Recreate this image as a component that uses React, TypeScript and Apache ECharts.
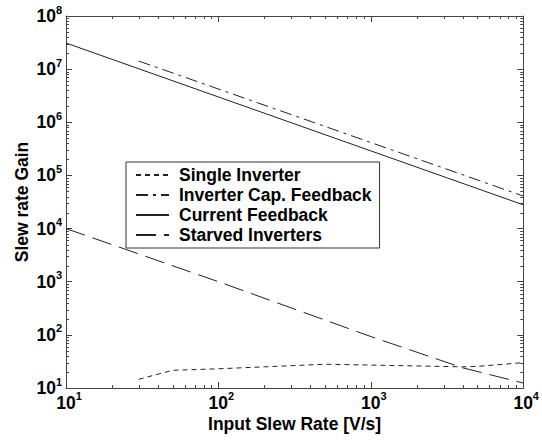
import React, { useEffect, useRef } from "react";
import * as echarts from "echarts";

// ---- data ----
const singleInverterX = [30, 50, 100, 200, 500, 1000, 2000, 4000, 5000, 10000];
const singleInverterY = [14.6, 21.5, 23, 25, 28, 27, 26, 25, 25.5, 30];

const invCapFeedbackX = [30, 10000];
const invCapFeedbackY = [1.42e7, 4.1e4];

const currentFeedbackX = [10, 10000];
const currentFeedbackY = [3.1e7, 2.8e4];

const starvedX = [10, 100, 1000, 4000, 10000];
const starvedY = [10000, 1000, 93, 24, 12.4];

const seriesNames = [
  "Single Inverter",
  "Inverter Cap. Feedback",
  "Current Feedback",
  "Starved Inverters",
];

// axis decades (tick labels are 10^n)
const xDecades = [1, 2, 3, 4];
const yDecades = [1, 2, 3, 4, 5, 6, 7, 8];
const minorMultipliers = [2, 3, 4, 5, 6, 7, 8, 9];

const FONT = "'Liberation Sans', Arial, Helvetica, sans-serif";
const INK = "#222";
const AXIS = "#444";
const FS = 17.5;

const X_MIN = Math.pow(10, xDecades[0]);
const X_MAX = Math.pow(10, xDecades[xDecades.length - 1]);
const Y_MIN = Math.pow(10, yDecades[0]);
const Y_MAX = Math.pow(10, yDecades[yDecades.length - 1]);

function zip(xs: number[], ys: number[]) {
  return xs.map((x, i) => [x, ys[i]]);
}

function buildMinorTicks() {
  const out: number[][] = [];
  for (let i = 0; i < xDecades.length - 1; i++) {
    for (const m of minorMultipliers) out.push([m * Math.pow(10, xDecades[i]), Y_MIN, 0]);
  }
  for (let i = 0; i < yDecades.length - 1; i++) {
    for (const m of minorMultipliers) out.push([X_MIN, m * Math.pow(10, yDecades[i]), 1]);
  }
  return out;
}

const labelRich = {
  p: { width: 6, fontSize: FS, lineHeight: 15, verticalAlign: "middle" },
  b: { fontSize: FS, fontWeight: "bold", fontFamily: FONT, color: "#000", lineHeight: 15, verticalAlign: "middle" },
  s: { fontSize: 11, fontWeight: "bold", fontFamily: FONT, color: "#000", lineHeight: 2, height: 2, verticalAlign: "top" },
};

function expOf(v: number) {
  return Math.round(Math.log10(v));
}

export default function App() {
  const ref = useRef<HTMLDivElement>(null);

  useEffect(() => {
    if (!ref.current) return;
    const chart = echarts.init(ref.current, null, { renderer: "svg" });

    const tickStyle = { color: AXIS, width: 1 };

    const option: any = {
      animation: false,
      backgroundColor: "#fff",
      grid: { left: 66, top: 16, right: 15, bottom: 54, containLabel: false },
      legend: {
        data: seriesNames,
        orient: "vertical",
        left: 126,
        top: 162,
        backgroundColor: "#fff",
        borderColor: "#333",
        borderWidth: 1,
        borderRadius: 0,
        padding: [3, 8, 3, 9],
        itemGap: 0,
        itemWidth: 33,
        itemHeight: 20,
        selectedMode: false,
        itemStyle: { opacity: 0 },
        textStyle: {
          fontFamily: FONT,
          fontWeight: "bold",
          fontSize: FS,
          color: "#000",
          lineHeight: 20,
          padding: [0, 0, 0, 5],
        },
      },
      xAxis: [
        {
          type: "log",
          logBase: 10,
          min: X_MIN,
          max: X_MAX,
          interval: 1,
          position: "bottom",
          name: "Input Slew Rate [V/s]",
          nameLocation: "middle",
          nameGap: 27,
          nameMoveOverlap: false,
          nameTextStyle: { fontFamily: FONT, fontWeight: "bold", fontSize: FS, color: "#000" },
          axisLine: { show: true, onZero: false, lineStyle: tickStyle },
          axisTick: { show: true, inside: true, length: 6, lineStyle: tickStyle },
          splitLine: { show: false },
          minorTick: { show: false },
          axisLabel: {
            margin: 7,
            interval: 0,
            formatter: (v: number) => `{p|}{b|10}{s|${expOf(v)}}`,
            rich: labelRich,
          },
        },
        {
          type: "log",
          logBase: 10,
          min: X_MIN,
          max: X_MAX,
          interval: 1,
          position: "top",
          axisLine: { show: true, onZero: false, lineStyle: tickStyle },
          axisTick: { show: true, inside: true, length: 6, lineStyle: tickStyle },
          splitLine: { show: false },
          axisLabel: { show: false },
        },
      ],
      yAxis: [
        {
          type: "log",
          logBase: 10,
          min: Y_MIN,
          max: Y_MAX,
          interval: 1,
          position: "left",
          name: "Slew rate Gain",
          nameLocation: "middle",
          nameGap: 35,
          nameMoveOverlap: false,
          nameTextStyle: { fontFamily: FONT, fontWeight: "bold", fontSize: FS, color: "#000" },
          axisLine: { show: true, onZero: false, lineStyle: tickStyle },
          axisTick: { show: true, inside: true, length: 6, lineStyle: tickStyle },
          splitLine: { show: false },
          axisLabel: {
            margin: 4,
            interval: 0,
            formatter: (v: number) => `{b|10}{s|${expOf(v)}}`,
            rich: labelRich,
          },
        },
        {
          type: "log",
          logBase: 10,
          min: Y_MIN,
          max: Y_MAX,
          interval: 1,
          position: "right",
          axisLine: { show: true, onZero: false, lineStyle: tickStyle },
          axisTick: { show: true, inside: true, length: 6, lineStyle: tickStyle },
          splitLine: { show: false },
          axisLabel: { show: false },
        },
      ],
      series: [
        {
          name: seriesNames[0],
          type: "line",
          data: zip(singleInverterX, singleInverterY),
          symbol: "none",
          lineStyle: { color: INK, width: 1, type: [5, 4] },
          itemStyle: { color: INK },
        },
        {
          name: seriesNames[1],
          type: "line",
          data: zip(invCapFeedbackX, invCapFeedbackY),
          symbol: "none",
          lineStyle: { color: INK, width: 1, type: [12, 5, 3, 5] },
          itemStyle: { color: INK },
        },
        {
          name: seriesNames[2],
          type: "line",
          data: zip(currentFeedbackX, currentFeedbackY),
          symbol: "none",
          lineStyle: { color: INK, width: 1, type: "solid" },
          itemStyle: { color: INK },
        },
        {
          name: seriesNames[3],
          type: "line",
          data: zip(starvedX, starvedY),
          symbol: "none",
          lineStyle: { color: INK, width: 1, type: [20, 8] },
          itemStyle: { color: INK },
        },
        {
          name: "minorTicks",
          type: "custom",
          silent: true,
          xAxisIndex: 0,
          yAxisIndex: 0,
          encode: { x: 0, y: 1 },
          data: buildMinorTicks(),
          renderItem: (params: any, api: any) => {
            const kind = api.value(2);
            const style = { stroke: AXIS, lineWidth: 1 };
            if (kind === 0) {
              const v = api.value(0);
              const b = api.coord([v, Y_MIN]);
              const t = api.coord([v, Y_MAX]);
              const x = Math.round(b[0]) + 0.5;
              return {
                type: "group",
                children: [
                  { type: "line", shape: { x1: x, y1: b[1], x2: x, y2: b[1] - 3 }, style },
                  { type: "line", shape: { x1: x, y1: t[1], x2: x, y2: t[1] + 3 }, style },
                ],
              };
            }
            const v = api.value(1);
            const l = api.coord([X_MIN, v]);
            const r = api.coord([X_MAX, v]);
            const y = Math.round(l[1]) + 0.5;
            return {
              type: "group",
              children: [
                { type: "line", shape: { x1: l[0], y1: y, x2: l[0] + 3, y2: y }, style },
                { type: "line", shape: { x1: r[0], y1: y, x2: r[0] - 3, y2: y }, style },
              ],
            };
          },
        },
      ],
    };

    chart.setOption(option);
    return () => chart.dispose();
  }, []);

  return (
    <div
      ref={ref}
      style={{ position: "fixed", left: 0, top: 0, width: 542, height: 442, background: "#fff" }}
    />
  );
}
